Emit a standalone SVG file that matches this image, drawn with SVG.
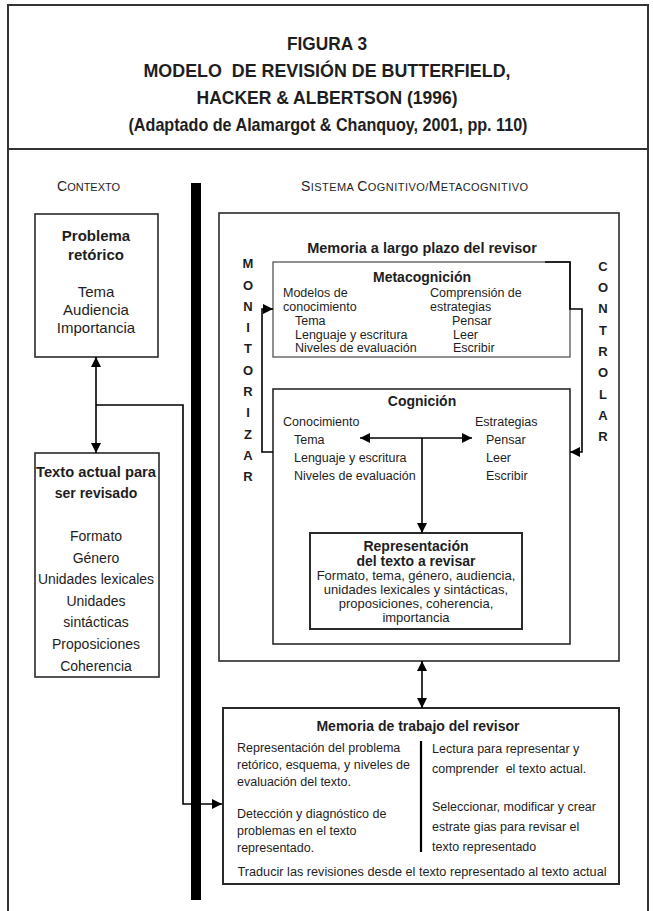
<svg xmlns="http://www.w3.org/2000/svg" width="653" height="911" viewBox="0 0 653 911">
<style>
text{font-family:"Liberation Sans",Arial,sans-serif;fill:#1e1e1e}
.title{font-size:19px;font-weight:bold;text-anchor:middle}
.h{font-size:14px;font-weight:bold;text-anchor:middle}
.b{font-size:12.5px}
.l{font-size:14px;text-anchor:middle}
.c{font-size:13px;text-anchor:middle}
.v{font-size:13px;font-weight:bold;text-anchor:middle}
.box{fill:none;stroke:#2a2a2a;stroke-width:1.6}
.thin{fill:none;stroke:#555;stroke-width:1.3}
.con{fill:none;stroke:#000;stroke-width:1.6}
</style>
<defs>
<marker id="ah" viewBox="0 0 10 10" refX="10" refY="5" markerWidth="10" markerHeight="10" markerUnits="userSpaceOnUse" orient="auto-start-reverse">
<path d="M0,0 L10,5 L0,10 z" fill="#000"/>
</marker>
</defs>
<rect width="653" height="911" fill="#fff"/>
<g id="frame">
<path d="M8,911 V5 H648 V911" fill="none" stroke="#333" stroke-width="2"/>
<line x1="8" y1="149" x2="648" y2="149" stroke="#333" stroke-width="2"/>
<rect x="191" y="183" width="10" height="717" fill="#000"/>
</g>
<g id="header">
<text class="title" x="327" y="50" textLength="80" lengthAdjust="spacingAndGlyphs">FIGURA 3</text>
<text class="title" x="327" y="77" textLength="367" lengthAdjust="spacingAndGlyphs" style="white-space:pre">MODELO  DE REVISIÓN DE BUTTERFIELD,</text>
<text class="title" x="327" y="104" textLength="261" lengthAdjust="spacingAndGlyphs">HACKER &amp; ALBERTSON (1996)</text>
<text class="title" x="328" y="131" textLength="399" lengthAdjust="spacingAndGlyphs">(Adaptado de Alamargot &amp; Chanquoy, 2001, pp. 110)</text>
</g>
<g id="section-labels">
<text x="57" y="191" style="font-size:14px">C<tspan style="font-size:11px">ONTEXTO</tspan></text>
<text x="301" y="191" style="font-size:14px" textLength="227">S<tspan style="font-size:11px">ISTEMA </tspan>C<tspan style="font-size:11px">OGNITIVO/</tspan>M<tspan style="font-size:11px">ETACOGNITIVO</tspan></text>
</g>
<g id="problema-retorico">
<rect class="box" x="35" y="214" width="123" height="143"/>
<text class="h" x="96" y="241" style="font-size:15px">Problema</text>
<text class="h" x="96" y="260" style="font-size:15px">retórico</text>
<text class="l" x="96" y="297" style="font-size:15px">Tema</text>
<text class="l" x="96" y="315" style="font-size:15px">Audiencia</text>
<text class="l" x="96" y="333" style="font-size:15px">Importancia</text>
</g>
<g id="texto-actual">
<rect class="box" x="35" y="453" width="124" height="224"/>
<text class="h" x="96" y="477" textLength="120" lengthAdjust="spacingAndGlyphs">Texto actual para</text>
<text class="h" x="96" y="498">ser revisado</text>
<text class="l" x="96" y="541">Formato</text>
<text class="l" x="96" y="563">Género</text>
<text class="l" x="96" y="584" textLength="116" lengthAdjust="spacingAndGlyphs">Unidades lexicales</text>
<text class="l" x="96" y="606">Unidades</text>
<text class="l" x="96" y="627">sintácticas</text>
<text class="l" x="96" y="649">Proposiciones</text>
<text class="l" x="96" y="671">Coherencia</text>
</g>
<g id="memoria-largo-plazo">
<rect class="box" x="219" y="213" width="400" height="448"/>
<text class="h" x="422" y="253" style="font-size:14.5px">Memoria a largo plazo del revisor</text>
</g>
<g id="monitorizar">
<text class="v" x="248" y="268">M</text>
<text class="v" x="248" y="290">O</text>
<text class="v" x="248" y="311">N</text>
<text class="v" x="248" y="332">I</text>
<text class="v" x="248" y="353">T</text>
<text class="v" x="248" y="375">O</text>
<text class="v" x="248" y="396">R</text>
<text class="v" x="248" y="417">I</text>
<text class="v" x="248" y="439">Z</text>
<text class="v" x="248" y="460">A</text>
<text class="v" x="248" y="481">R</text>
</g>
<g id="controlar">
<text class="v" x="603" y="271">C</text>
<text class="v" x="603" y="292">O</text>
<text class="v" x="603" y="313">N</text>
<text class="v" x="603" y="335">T</text>
<text class="v" x="603" y="356">R</text>
<text class="v" x="603" y="377">O</text>
<text class="v" x="603" y="399">L</text>
<text class="v" x="603" y="420">A</text>
<text class="v" x="603" y="441">R</text>
</g>
<g id="metacognicion">
<rect class="thin" x="273" y="262" width="297" height="95"/>
<text class="h" x="422" y="282">Metacognición</text>
<text class="b" x="283" y="296.5">Modelos de</text>
<text class="b" x="283" y="310.5">conocimiento</text>
<text class="b" x="295" y="324.5">Tema</text>
<text class="b" x="295" y="338.5">Lenguaje y escritura</text>
<text class="b" x="295" y="351.5">Niveles de evaluación</text>
<text class="b" x="430" y="296.5">Comprensión de</text>
<text class="b" x="430" y="310.5">estrategias</text>
<text class="b" x="452" y="324.5">Pensar</text>
<text class="b" x="453" y="338.5">Leer</text>
<text class="b" x="453" y="351.5">Escribir</text>
</g>
<g id="cognicion">
<rect class="box" x="273" y="389" width="297" height="255"/>
<text class="h" x="422" y="406">Cognición</text>
<text class="b" x="283" y="426">Conocimiento</text>
<text class="b" x="294" y="444">Tema</text>
<text class="b" x="294" y="462">Lenguaje y escritura</text>
<text class="b" x="294" y="480">Niveles de evaluación</text>
<text class="b" x="475" y="426">Estrategias</text>
<text class="b" x="486" y="444">Pensar</text>
<text class="b" x="486" y="462">Leer</text>
<text class="b" x="486" y="480">Escribir</text>
</g>
<g id="representacion">
<rect class="box" x="310" y="533" width="212" height="96" style="stroke-width:2"/>
<text class="h" x="416" y="551">Representación</text>
<text class="h" x="416" y="566">del texto a revisar</text>
<text class="c" x="416" y="579.5">Formato, tema, género, audiencia,</text>
<text class="c" x="416" y="593.5">unidades lexicales y sintácticas,</text>
<text class="c" x="416" y="607.5">proposiciones, coherencia,</text>
<text class="c" x="416" y="622">importancia</text>
</g>
<g id="memoria-trabajo">
<rect class="box" x="223" y="708" width="396" height="176" style="stroke-width:2"/>
<text class="h" x="418" y="731">Memoria de trabajo del revisor</text>
<line x1="421" y1="741" x2="421" y2="852" stroke="#000" stroke-width="2.2"/>
<text class="b" x="237" y="752">Representación del problema</text>
<text class="b" x="237" y="769">retórico, esquema, y niveles de</text>
<text class="b" x="237" y="786">evaluación del texto.</text>
<text class="b" x="237" y="818">Detección y diagnóstico de</text>
<text class="b" x="237" y="835">problemas en el texto</text>
<text class="b" x="237" y="852">representado.</text>
<text class="b" x="432" y="753">Lectura para representar y</text>
<text class="b" x="432" y="773" style="white-space:pre">comprender  el texto actual.</text>
<text class="b" x="432" y="811">Seleccionar, modificar y crear</text>
<text class="b" x="432" y="831">estrate gias para revisar el</text>
<text class="b" x="432" y="851">texto representado</text>
<text class="b" x="422" y="876" style="text-anchor:middle" textLength="369" lengthAdjust="spacingAndGlyphs">Traducir las revisiones desde el texto representado al texto actual</text>
</g>
<g id="connectors">
<line class="con" x1="96" y1="357" x2="96" y2="453" marker-start="url(#ah)" marker-end="url(#ah)"/>
<path class="con" d="M96,405 H183 V804 H222" marker-end="url(#ah)"/>
<path class="con" d="M273,452 H262 V309 H273" marker-end="url(#ah)"/>
<path class="con" d="M545,262 H570 V309 H582 V452 H570" marker-end="url(#ah)"/>
<line class="con" x1="360" y1="438" x2="472" y2="438" marker-start="url(#ah)" marker-end="url(#ah)"/>
<line class="con" x1="422" y1="438" x2="422" y2="533" marker-end="url(#ah)"/>
<line class="con" x1="422" y1="661" x2="422" y2="708" marker-start="url(#ah)" marker-end="url(#ah)"/>
</g>
</svg>
